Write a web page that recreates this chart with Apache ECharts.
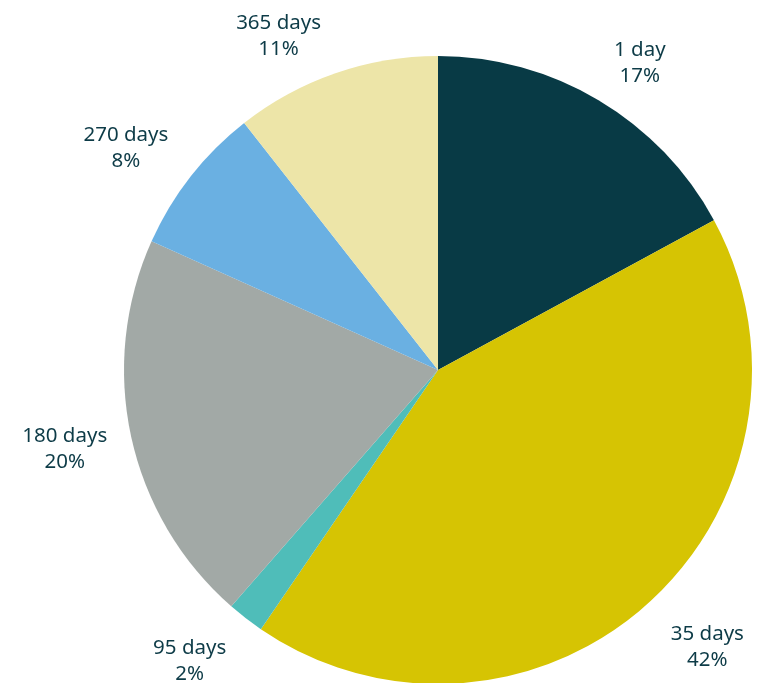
<!DOCTYPE html>
<html>
<head>
<meta charset="utf-8">
<script src="https://cdn.jsdelivr.net/npm/echarts@6/dist/echarts.min.js"></script>
<style>
html,body{margin:0;padding:0;background:#fff;}
#chart{width:758px;height:683px;}
</style>
</head>
<body>
<div id="chart"></div>
<script>
var categories = ['1 day', '35 days', '95 days', '180 days', '270 days', '365 days'];
var values = [17.1, 42.5, 1.9, 20.3, 7.7, 10.6];
var colors = ['#083a45', '#d6c403', '#4fbdb9', '#a2a9a6', '#6ab0e2', '#ede5a8'];
// fine label nudges (px) relative to the slice mid-angle anchor
var labelNudges = [[7, 21], [14, -6], [-15, -10], [-1, -2], [-12, 13], [-35, 26]];

var chart = echarts.init(document.getElementById('chart'), null, {renderer: 'canvas'});
var data = categories.map(function (c, i) {
  return {name: c, value: values[i], itemStyle: {color: colors[i]}};
});
var labelData = categories.map(function (c, i) {
  return {name: c, value: values[i], label: {offset: labelNudges[i]}};
});
chart.setOption({
  animation: false,
  backgroundColor: '#ffffff',
  series: [
    {
      type: 'pie',
      center: [438, 370],
      radius: [0, 314],
      startAngle: 90,
      clockwise: true,
      label: {show: false},
      labelLine: {show: false},
      silent: true,
      data: data
    },
    {
      type: 'pie',
      center: [438, 370],
      radius: [316, 440],
      startAngle: 90,
      clockwise: true,
      percentPrecision: 0,
      silent: true,
      itemStyle: {color: 'rgba(0,0,0,0)'},
      labelLine: {show: false},
      label: {
        show: true,
        position: 'inside',
        formatter: '{b}\n{d}%',
        color: '#0d3b47',
        fontFamily: 'Noto Sans',
        fontSize: 20.5,
        lineHeight: 26,
        align: 'center'
      },
      data: labelData
    }
  ]
});
</script>
</body>
</html>
